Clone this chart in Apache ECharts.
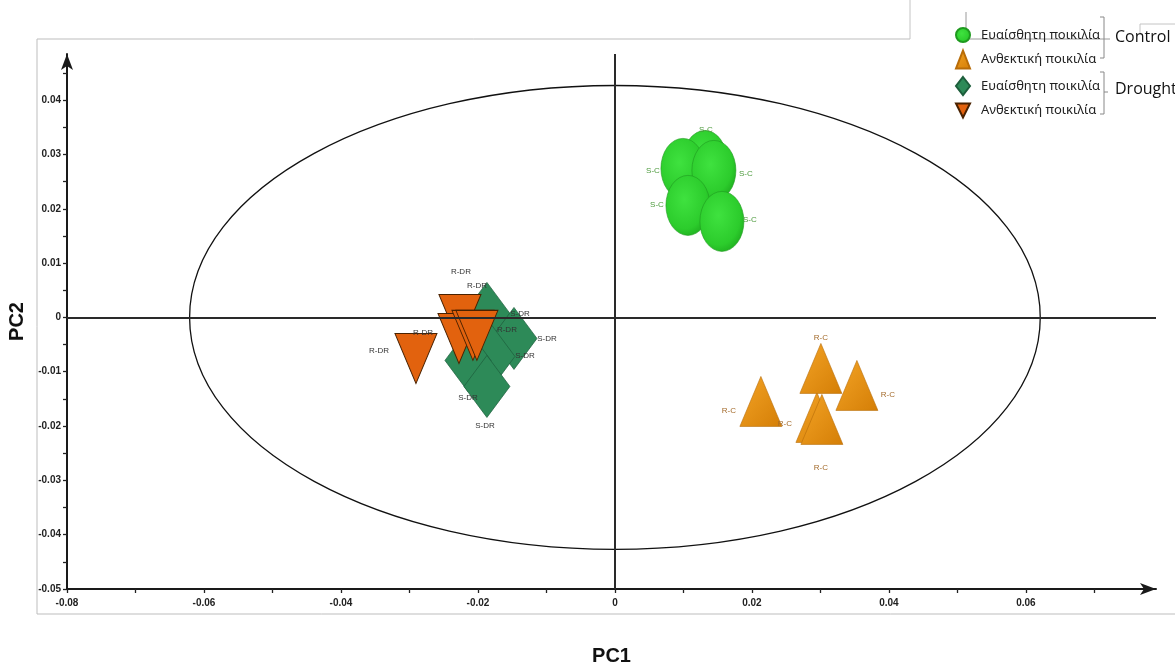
<!DOCTYPE html>
<html>
<head>
<meta charset="utf-8">
<script src="https://cdn.jsdelivr.net/npm/echarts@6/dist/echarts.min.js"></script>
<style>
  html, body { margin: 0; padding: 0; background: #ffffff; }
  #chart { width: 1175px; height: 668px; }
</style>
</head>
<body>
<div id="chart"></div>
<script>
// PCA scores: sensitive (S) and resistant (R) varieties under control (C) and drought (DR)
const scPC1 = [0.01314, 0.00993, 0.01445, 0.01066, 0.01562];
const scPC2 = [0.02890, 0.02744, 0.02707, 0.02063, 0.01768];

const rcPC1 = [0.02949, 0.03022, 0.02131, 0.03007, 0.03533];
const rcPC2 = [-0.01842, -0.01878, -0.01547, -0.00939, -0.01252];

const sdrPC1 = [-0.01869, -0.01474, -0.01796, -0.02146, -0.01869];
const sdrPC2 = [0.00074, -0.00387, -0.00718, -0.00792, -0.01271];

const rdrPC1 = [-0.02263, -0.02277, -0.02073, -0.02015, -0.02905];
const rdrPC2 = [-0.00037, -0.00387, -0.00331, -0.00331, -0.00755];

// Confidence ellipse (centre and semi-axes in PC units)
const ellipseCenter = [0, 0];
const ellipseRadii = [0.0621, 0.0427];

// Axis ticks and labels
const xLabelValues = [-0.08, -0.06, -0.04, -0.02, 0, 0.02, 0.04, 0.06];
const xTickValues = [-0.08, -0.07, -0.06, -0.05, -0.04, -0.03, -0.02, -0.01, 0, 0.01, 0.02, 0.03, 0.04, 0.05, 0.06, 0.07];
const yLabelValues = [-0.05, -0.04, -0.03, -0.02, -0.01, 0, 0.01, 0.02, 0.03, 0.04];
const yTickValues = [-0.05, -0.045, -0.04, -0.035, -0.03, -0.025, -0.02, -0.015, -0.01, -0.005, 0, 0.005, 0.01, 0.015, 0.02, 0.025, 0.03, 0.035, 0.04, 0.045];

// Legend entries and group captions
const groupNames = ['S-C', 'R-C', 'S-DR', 'R-DR'];
const legendText = {
  'S-C': 'Ευαίσθητη ποικιλία',
  'R-C': 'Ανθεκτική ποικιλία',
  'S-DR': 'Ευαίσθητη ποικιλία',
  'R-DR': 'Ανθεκτική ποικιλία'
};
const groupCaptions = ['Control', 'Drought'];

// Where each point's name tag sits relative to its marker (px)
const scLabelShift = [[1, -31], [-30, 2], [32, 3], [-31, -1], [28, -2]];
const rcLabelShift = [[-32, 6], [-1, 48], [-32, 9], [0, -31], [31, 9]];
const sdrLabelShift = [[33, 0], [33, 0], [33, -1], [0, 37], [-2, 39]];
const rdrLabelShift = [[1, -48], [-36, -6], [4, -50], [30, -6], [-37, -8]];

const narrow = "'Liberation Sans Narrow', 'Arial Narrow', 'Liberation Sans', sans-serif";

function points(xs, ys, shifts) {
  return xs.map((x, i) => ({
    value: [x, ys[i]],
    label: { offset: shifts[i] }
  }));
}

function tagLabel(color) {
  return {
    show: true,
    position: 'inside',
    formatter: '{a}',
    fontFamily: 'Liberation Sans, sans-serif',
    fontSize: 8,
    color: color
  };
}

const fmt = v => String(+v.toFixed(3));

const chart = echarts.init(document.getElementById('chart'), null, { renderer: 'canvas' });

const option = {
  animation: false,
  backgroundColor: '#ffffff',
  grid: { left: 67, right: 19, top: 54, bottom: 79, containLabel: false, outerBoundsMode: 'none' },
  legend: {
    orient: 'vertical',
    left: 950,
    top: 22,
    itemWidth: 14,
    itemHeight: 18,
    itemGap: 6.5,
    data: groupNames,
    formatter: n => legendText[n],
    textStyle: {
      fontFamily: "'Noto Sans', 'Open Sans', sans-serif",
      fontSize: 13,
      color: '#222',
      padding: [0, 0, 0, 6]
    }
  },
  xAxis: {
    type: 'value',
    min: -0.08,
    max: 0.079,
    name: 'PC1',
    nameLocation: 'middle',
    nameGap: 57,
    nameTextStyle: { fontFamily: narrow, fontWeight: 'bold', fontSize: 20, color: '#111' },
    axisLine: {
      onZero: false,
      symbol: ['none', 'arrow'],
      symbolSize: [9, 16],
      lineStyle: { color: '#1a1a1a', width: 2 }
    },
    axisTick: { show: true, customValues: xTickValues, length: 4, lineStyle: { color: '#222', width: 1.3 } },
    axisLabel: {
      customValues: xLabelValues,
      formatter: fmt,
      margin: 9,
      fontFamily: narrow,
      fontWeight: 'bold',
      fontSize: 10,
      color: '#222'
    },
    splitLine: { show: false }
  },
  yAxis: {
    type: 'value',
    min: -0.05,
    max: 0.0485,
    name: 'PC2',
    nameLocation: 'middle',
    nameGap: 37,
    nameRotate: 90,
    nameTextStyle: { fontFamily: narrow, fontWeight: 'bold', fontSize: 20, color: '#111' },
    axisLine: {
      onZero: false,
      symbol: ['none', 'arrow'],
      symbolSize: [9, 16],
      lineStyle: { color: '#1a1a1a', width: 2 }
    },
    axisTick: { show: true, customValues: yTickValues, length: 4, lineStyle: { color: '#222', width: 1.3 } },
    axisLabel: {
      customValues: yLabelValues,
      formatter: fmt,
      margin: 6,
      fontFamily: narrow,
      fontWeight: 'bold',
      fontSize: 10,
      color: '#222'
    },
    splitLine: { show: false }
  },
  graphic: [
    // outer frame
    { type: 'polyline', silent: true, shape: { points: [[910, 39], [37, 39], [37, 614], [1175, 614]] }, style: { stroke: '#bdbdbd', lineWidth: 1, fill: null } },
    { type: 'line', silent: true, shape: { x1: 910, y1: 0, x2: 910, y2: 39 }, style: { stroke: '#c4c4c4', lineWidth: 1 } },
    { type: 'polyline', silent: true, shape: { points: [[966, 12], [966, 39], [1110, 39]] }, style: { stroke: '#9a9a9a', lineWidth: 1, fill: null } },
    { type: 'polyline', silent: true, shape: { points: [[1140, 33], [1140, 24], [1175, 24]] }, style: { stroke: '#c4c4c4', lineWidth: 1, fill: null } },
    // group brackets
    { type: 'polyline', silent: true, shape: { points: [[1100, 17], [1104, 17], [1104, 58], [1100, 58]] }, style: { stroke: '#888', lineWidth: 1, fill: null } },
    { type: 'polyline', silent: true, shape: { points: [[1100, 72], [1104, 72], [1104, 114], [1100, 114]] }, style: { stroke: '#888', lineWidth: 1, fill: null } },
    { type: 'line', silent: true, shape: { x1: 1104, y1: 92, x2: 1108, y2: 92 }, style: { stroke: '#888', lineWidth: 1 } },
    { type: 'text', silent: true, left: 1115, top: 29, style: { text: groupCaptions[0], fontFamily: "'Open Sans', 'Noto Sans', sans-serif", fontSize: 16, fill: '#111' } },
    { type: 'text', silent: true, left: 1115, top: 81, style: { text: groupCaptions[1], fontFamily: "'Open Sans', 'Noto Sans', sans-serif", fontSize: 16, fill: '#111' } }
  ],
  series: [
    {
      type: 'custom',
      name: 'ellipse',
      silent: true,
      z: 1,
      data: [ellipseCenter],
      renderItem: (params, api) => {
        const c = api.coord([api.value(0), api.value(1)]);
        const r = api.size([ellipseRadii[0], ellipseRadii[1]]);
        return {
          type: 'ellipse',
          shape: { cx: c[0], cy: c[1], rx: r[0], ry: r[1] },
          style: { fill: 'none', stroke: '#111', lineWidth: 1.3 }
        };
      },
      markLine: {
        silent: true,
        symbol: 'none',
        label: { show: false },
        lineStyle: { color: '#2a2a2a', width: 2, type: 'solid' },
        data: [{ xAxis: 0 }, { yAxis: 0 }]
      }
    },
    {
      name: 'S-C',
      type: 'scatter',
      z: 3,
      symbol: 'circle',
      symbolSize: [44, 60],
      itemStyle: {
        opacity: 1,
        color: {
          type: 'radial', x: 0.42, y: 0.4, r: 0.65,
          colorStops: [{ offset: 0, color: '#3fe23f' }, { offset: 0.75, color: '#2ccc2c' }, { offset: 1, color: '#1fae1f' }]
        },
        borderColor: '#1f9a1f',
        borderWidth: 0.6
      },
      label: tagLabel('#4c9a3c'),
      data: points(scPC1, scPC2, scLabelShift)
    },
    {
      name: 'R-C',
      type: 'scatter',
      z: 3,
      symbol: 'triangle',
      symbolSize: [42, 50],
      itemStyle: {
        opacity: 1,
        color: {
          type: 'linear', x: 0, y: 0, x2: 1, y2: 1,
          colorStops: [{ offset: 0, color: '#f4a426' }, { offset: 1, color: '#d47e06' }]
        },
        borderColor: '#b86c08',
        borderWidth: 0.6
      },
      label: tagLabel('#a36a2a'),
      data: points(rcPC1, rcPC2, rcLabelShift)
    },
    {
      name: 'S-DR',
      type: 'scatter',
      z: 3,
      symbol: 'diamond',
      symbolSize: [46, 62],
      itemStyle: { opacity: 1, color: '#2d8a58', borderColor: '#1d5e3c', borderWidth: 0.7 },
      label: tagLabel('#333'),
      data: points(sdrPC1, sdrPC2, sdrLabelShift)
    },
    {
      name: 'R-DR',
      type: 'scatter',
      z: 4,
      symbol: 'path://M0,0 L2,0 L1,2 Z',
      symbolSize: [42, 50],
      itemStyle: { opacity: 1, color: '#e2620e', borderColor: '#4a2200', borderWidth: 1 },
      label: tagLabel('#333'),
      data: points(rdrPC1, rdrPC2, rdrLabelShift)
    }
  ]
};

chart.setOption(option);
</script>
</body>
</html>
